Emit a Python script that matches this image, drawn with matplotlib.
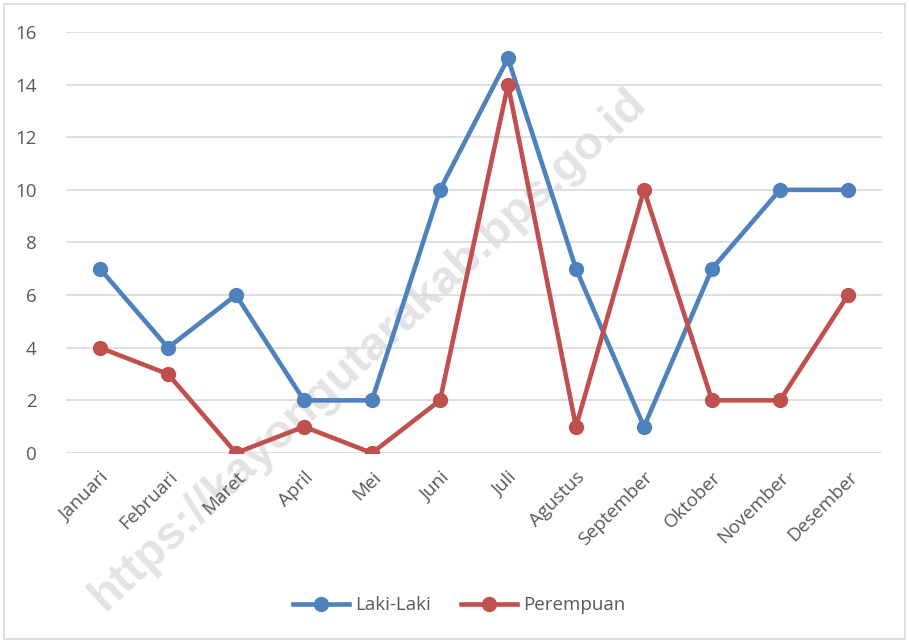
import matplotlib.pyplot as plt
from matplotlib.patches import Rectangle

# data
months = ["Januari", "Februari", "Maret", "April", "Mei", "Juni", "Juli",
          "Agustus", "September", "Oktober", "November", "Desember"]
laki = [7, 4, 6, 2, 2, 10, 15, 7, 1, 7, 10, 10]
perempuan = [4, 3, 0, 1, 0, 2, 14, 1, 10, 2, 2, 6]

plt.rcParams['font.family'] = ['Open Sans', 'DejaVu Sans']
txt_col = '#595959'

fig = plt.figure(figsize=(9.09, 6.42), dpi=100)
ax = fig.add_axes([0.0726, 0.2944, 0.8977, 0.6558])

x = range(len(months))
ax.plot(x, laki, color='#4F81BD', lw=3.3, marker='o', ms=10, label='Laki-Laki', zorder=3)
ax.plot(x, perempuan, color='#C0504D', lw=3.3, marker='o', ms=10, label='Perempuan', zorder=3)

ax.set_xlim(-0.5, len(months) - 0.5)
ax.set_ylim(0, 16)
ax.set_yticks(range(0, 17, 2))
ax.set_xticks(list(x))
ax.set_xticklabels(months, rotation=45, ha='right', va='top', rotation_mode='anchor')
ax.tick_params(axis='both', length=0, labelsize=13.5, colors=txt_col)
ax.tick_params(axis='y', pad=21)
ax.tick_params(axis='x', pad=11)
ax.grid(axis='y', color='#D9D9D9', lw=1.2)
ax.set_axisbelow(True)
for s in ax.spines.values():
    s.set_visible(False)

# watermark (kept under the axis labels)
ax.text(0.405, 0.455, "https://kayongutarakab.bps.go.id", transform=fig.transFigure,
        rotation=43, ha='center', va='center', fontsize=34, fontweight='bold',
        family='Liberation Sans', color='#E3E3E3', zorder=0.2)

leg = fig.legend(loc='center', bbox_to_anchor=(0.505, 0.057), ncol=2, frameon=False,
                 fontsize=13.5, handlelength=3.0, columnspacing=1.6, handletextpad=0.3)
for t in leg.get_texts():
    t.set_color(txt_col)

fig.patches.append(Rectangle((0.004, 0.004), 0.992, 0.99, transform=fig.transFigure,
                             fill=False, edgecolor='#D9D9D9', lw=1.2))

plt.savefig("out.png", dpi=100)
